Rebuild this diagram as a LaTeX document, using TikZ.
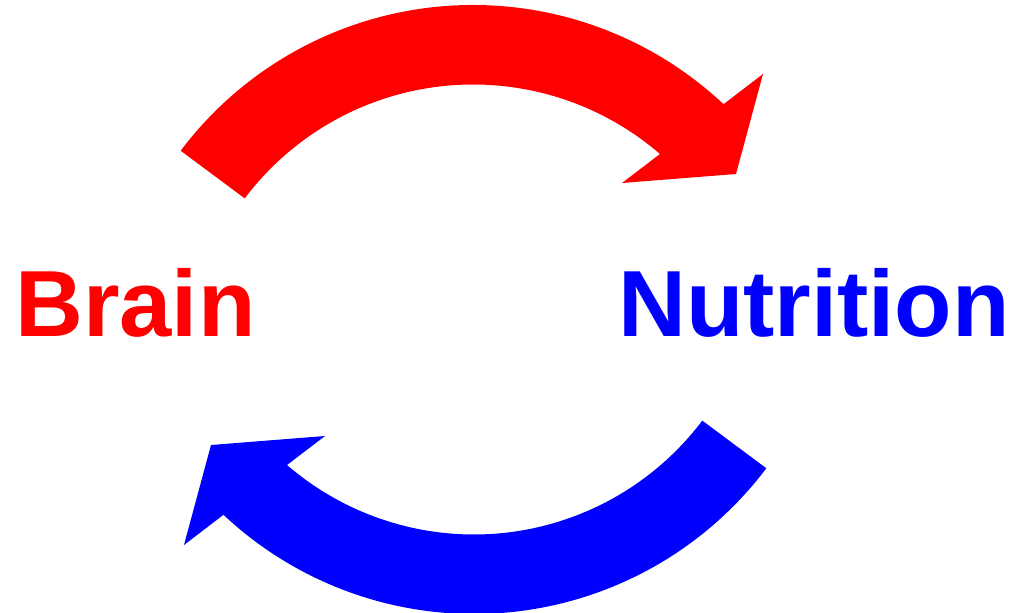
\documentclass[tikz,border=0pt]{standalone}
\usepackage{fontspec}
\setmainfont{Liberation Sans}
\usepackage{tikz}
\usetikzlibrary{positioning}

\tikzset{
  bendarrow/.pic={
    % shaft between two arcs round (473,242), head as a polygon
    \path[pic actions] (473,242) ++(143:366) arc[start angle=143, end angle=46.8, radius=366]
      -- (763,539) -- (736,439) -- (622,430) -- (660,459)
      arc[start angle=49.2, end angle=143, radius=286] -- cycle;
  },
  word/.style={anchor=base west, inner sep=0pt, font=\fontsize{94}{100}\selectfont\bfseries}
}

\begin{document}
\begin{tikzpicture}[x=1pt, y=1pt]
  \useasboundingbox (0,0) rectangle (1010,613);
  \pic[fill=red] (top) at (0,0) {bendarrow};
  \pic[fill=blue, rotate=180] (bottom) at (947,607) {bendarrow};

  \node[word, text=red] (brain) at (15,276) {Brain};
  \node[word, text=blue] (nutrition) at (618,276) {Nutrition};
\end{tikzpicture}
\end{document}
